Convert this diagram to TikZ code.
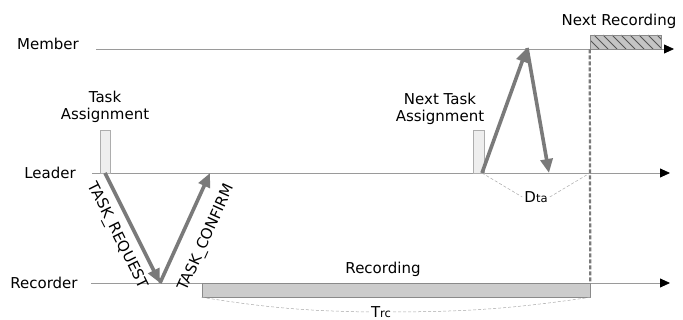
\documentclass[tikz,border=0pt]{standalone}
\usepackage{fontspec}
\setmainfont{DejaVu Sans}
\usetikzlibrary{arrows.meta}
\definecolor{axisgray}{HTML}{9A9A9A}
\definecolor{msggray}{HTML}{7A7A7A}
\definecolor{boxgray}{HTML}{CCCCCC}
\definecolor{edgegray}{HTML}{8A8A8A}
\definecolor{taskfill}{HTML}{EEEEEE}
\definecolor{hatchfill}{HTML}{C4C4C4}
\definecolor{hatchline}{HTML}{555555}
\definecolor{spangray}{HTML}{A8A8A8}
\newcommand{\subsz}[1]{{\fontsize{11.5}{13}\selectfont #1}}
\begin{document}
\begin{tikzpicture}[x=1pt,y=-1pt,
  font=\fontsize{15}{17}\selectfont,
  lbl/.style={inner sep=0pt, anchor=center},
  axis/.style={draw=axisgray, line width=0.8pt, -{Triangle[black,length=10pt,width=9pt]}},
  msg/.style={draw=msggray, line width=3.6pt, -{Triangle[length=14pt,width=12pt]}},
  taskbox/.style={draw=edgegray!70, fill=taskfill, line width=0.5pt, minimum height=43pt, inner sep=0pt},
  span/.style={draw=spangray, line width=0.5pt, dash pattern=on 3pt off 2pt}
]
\useasboundingbox (0,0) rectangle (683,320);

% lane labels
\node[lbl] (member) at (48,44) {Member};
\node[lbl] (leader) at (50,173) {Leader};
\node[lbl] (recorder) at (44,283) {Recorder};

% lane timelines
\coordinate (ms) at (96,49);   \coordinate (me) at (674,49);
\coordinate (ls) at (92,173);  \coordinate (le) at (670,173);
\coordinate (rs) at (91,283);  \coordinate (re) at (670,283);
\draw[axis] (ms) -- (me);
\draw[axis] (ls) -- (le);
\draw[axis] (rs) -- (re);

% task assignment marks on the leader lane
\node[taskbox, minimum width=10pt] (ta1) at (105,151.5) {};
\node[lbl] (ta1t) at (105,97) {Task};
\node[lbl] (ta1b) at (105,115) {Assignment};
\node[taskbox, minimum width=11pt] (ta2) at (478.5,151.5) {};
\node[lbl] (ta2t) at (440,99) {Next Task};
\node[lbl] (ta2b) at (440,117) {Assignment};

% recording interval
\node[draw=edgegray, fill=boxgray, line width=0.6pt, minimum width=388pt, minimum height=14pt, inner sep=0pt] (recbox) at (396,290) {};
\node[lbl] (reclbl) at (383,269) {Recording};

% next recording (hatched)
\node[draw=edgegray, fill=hatchfill, line width=0.6pt, minimum width=71pt, minimum height=14pt, inner sep=0pt,
  path picture={
    \foreach \i in {-14,-5,...,76}
      \draw[hatchline, line width=1pt] ([xshift=\i pt]path picture bounding box.north west) -- ++(14pt,-14pt);
  }] (nextrec) at (625.5,42) {};
\node[lbl] (nextreclbl) at (619,21) {Next Recording};

% start of next recording
\draw[msggray, line width=2.2pt, dash pattern=on 4pt off 2pt] (nextrec.south west) -- (recbox.north east);

% messages
\coordinate (l1) at (105,173);
\coordinate (r1) at (160,283);
\coordinate (l2) at (210,173);
\coordinate (l3) at (482,173);
\coordinate (m1) at (527,48);
\coordinate (l4) at (549,173);
\coordinate (dend) at (590,173);

\draw[msg] (l1) -- node[midway, sloped, below=8pt, inner sep=0pt] (req) {TASK\_REQUEST} (r1);
\draw[msg] (r1) -- node[midway, sloped, below=15pt, inner sep=0pt] (conf) {TASK\_CONFIRM} (l2);
\draw[msg] (l3) -- (m1);
\draw[msg] (m1) -- (l4);

% durations
\node[lbl] (dta) at (536,197) {D\subsz{ta}};
\draw[span] (l3) -- ([xshift=-2pt]dta.west);
\draw[span] ([xshift=2pt]dta.east) -- (dend);

\node[lbl] (trc) at (381,312) {T\subsz{rc}};
\draw[span] (recbox.south west) to[bend right=4] ([xshift=-2pt]trc.west);
\draw[span] ([xshift=2pt]trc.east) to[bend right=4] (recbox.south east);
\end{tikzpicture}
\end{document}
